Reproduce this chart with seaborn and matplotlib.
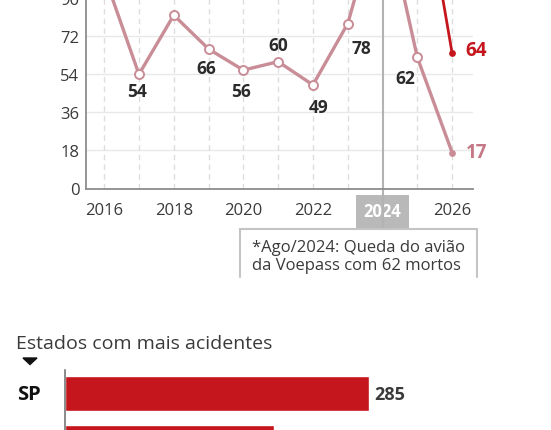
import numpy as np
import pandas as pd
import matplotlib.pyplot as plt
from matplotlib.lines import Line2D
from matplotlib.patches import Polygon
import seaborn as sns

# line chart data (top part of the graphic)
years = [2016, 2017, 2018, 2019, 2020, 2021, 2022, 2023, 2024, 2025, 2026]
accidents = [101, 54, 82, 66, 56, 60, 49, 78, 136, 62, 17]
red_years = [2025, 2026]
red_values = [160, 64]
tick_years = [2016, 2018, 2020, 2022, 2024, 2026]
y_ticks = [0, 18, 36, 54, 72, 90]

# bar chart data (bottom part)
states = ['SP', 'MT']
state_counts = [285, 196]

note_text = '*Ago/2024: Queda do avião\nda Voepass com 62 mortos'
bar_title = 'Estados com mais acidentes'

pink = '#c98d97'
pink_txt = '#c47885'
red = '#c4161c'
dark = '#2b2b2b'
grey_txt = '#3a3a3a'

sns.set_theme(style='white')
plt.rcParams['font.family'] = ['Open Sans', 'DejaVu Sans']

W, H = 551, 431
fig = plt.figure(figsize=(W / 100, H / 100), dpi=100)

def fx(px):
    return px / W

def fy(py):
    return 1 - py / H

# ---- line chart ----
ppu = 2.114  # pixels per unit
ymax = 180
ax = fig.add_axes([fx(86.4), fy(189.5), fx(473 - 86.4), ymax * ppu / H])
ax.set_xlim(2015.49, 2026.6)
ax.set_ylim(0, ymax)

for yv in y_ticks[1:]:
    ax.axhline(yv, color='#e8e8e8', lw=1, zorder=0)
for yr in years:
    if yr == 2024:
        continue
    ax.axvline(yr, color='#dedede', lw=1, ls=(0, (4, 3)), zorder=0)
ax.plot([2024, 2024], [ymax, -18.7], color='#b3b3b3', lw=1.5, zorder=1, clip_on=False)

df = pd.DataFrame({'ano': years, 'n': accidents})
sns.lineplot(data=df, x='ano', y='n', color=pink, lw=2.4, ax=ax, zorder=3)
sns.scatterplot(data=df.iloc[1:-1], x='ano', y='n', s=42, color='white',
                edgecolor=pink, linewidth=1.4, ax=ax, zorder=4)
sns.scatterplot(data=df.iloc[-1:], x='ano', y='n', s=24, color=pink,
                edgecolor=pink, linewidth=0, ax=ax, zorder=4)

dr = pd.DataFrame({'ano': red_years, 'n': red_values})
sns.lineplot(data=dr, x='ano', y='n', color=red, lw=2.0, ax=ax, zorder=3)
sns.scatterplot(data=dr.iloc[-1:], x='ano', y='n', s=24, color=red,
                linewidth=0, ax=ax, zorder=5)

# value labels (offset in pixels from point)
label_offsets = {2017: (-2, -17), 2019: (-2, -19), 2020: (-2, -21), 2021: (0, 17),
                 2022: (6, -22), 2023: (14, -24), 2025: (-12, -21)}
for yr, val in zip(years, accidents):
    if yr in label_offsets:
        ax.annotate(str(val), (yr, val), xytext=label_offsets[yr], textcoords='offset pixels',
                    ha='center', va='center', fontsize=12.5, fontweight='bold', color=dark)
ax.annotate(str(accidents[-1]), (years[-1], accidents[-1]), xytext=(14, 1),
            textcoords='offset pixels', ha='left', va='center', fontsize=13.5,
            fontweight='bold', color=pink_txt)
ax.annotate(str(red_values[-1]), (red_years[-1], red_values[-1]), xytext=(13, 3),
            textcoords='offset pixels', ha='left', va='center', fontsize=13.5,
            fontweight='bold', color=red)

ax.set_xticks(tick_years)
ax.set_xticklabels([str(t) for t in tick_years])
ax.set_yticks(y_ticks)
ax.set_yticklabels([str(t) for t in y_ticks])
ax.tick_params(axis='both', length=0, labelsize=12, colors=grey_txt)
ax.tick_params(axis='x', pad=10)
ax.tick_params(axis='y', pad=5)
for lab in ax.get_xticklabels():
    if lab.get_text() == '2024':
        lab.set_color('white')
        lab.set_fontweight('bold')
        lab.set_bbox(dict(boxstyle='square,pad=0.45', fc='#b9b9b9', ec='none'))
ax.set_xlabel('')
ax.set_ylabel('')
for s in ['top', 'right']:
    ax.spines[s].set_visible(False)
for s in ['left', 'bottom']:
    ax.spines[s].set_color('#8c8c8c')
    ax.spines[s].set_linewidth(1.3)
ax.grid(False)

# note box (open at the bottom)
box_col = '#c4c4c4'
fig.add_artist(Line2D([fx(240), fx(477)], [fy(230), fy(230)], color=box_col, lw=1.5))
fig.add_artist(Line2D([fx(240), fx(240)], [fy(230), fy(278)], color=box_col, lw=1.5))
fig.add_artist(Line2D([fx(477), fx(477)], [fy(230), fy(278)], color=box_col, lw=1.5))
fig.text(fx(252), fy(257), note_text, ha='left', va='center', fontsize=12,
         color=grey_txt, linespacing=1.1)

# ---- bar chart ----
fig.text(fx(16), fy(349), bar_title, ha='left', va='baseline', fontsize=14, color=grey_txt)
fig.add_artist(Polygon([[fx(23), fy(359)], [fx(37), fy(359)], [fx(30), fy(365.5)]],
                       closed=True, color='#111111', transform=fig.transFigure))

pitch = 48.5
bu = 1.0646
ax2 = fig.add_axes([fx(65.4), fy(370.7 + 2.1 * pitch), fx(400 * bu), 2.1 * pitch / H])
dfb = pd.DataFrame({'uf': states, 'n': state_counts})
sns.barplot(data=dfb, x='n', y='uf', orient='h', color=red, width=0.72, saturation=1,
            ax=ax2)
ax2.set_xlim(0, 400)
ax2.set_ylim(1.6, -0.5)
ax2.bar_label(ax2.containers[0], padding=4, fontsize=13, fontweight='bold', color=grey_txt)
ax2.set_yticks([])
ax2.set_xticks([])
ax2.set_xlabel('')
ax2.set_ylabel('')
for s in ['top', 'right', 'bottom']:
    ax2.spines[s].set_visible(False)
ax2.spines['left'].set_color('#777777')
ax2.spines['left'].set_linewidth(1.2)
lab_x = (17 - 65.4) / (400 * bu)
for i, st in enumerate(states):
    ax2.text(lab_x, i, st, transform=ax2.get_yaxis_transform(), ha='left', va='center',
             fontsize=14.5, fontweight='bold', color='#111111')

fig.savefig('out.png', dpi=100)
